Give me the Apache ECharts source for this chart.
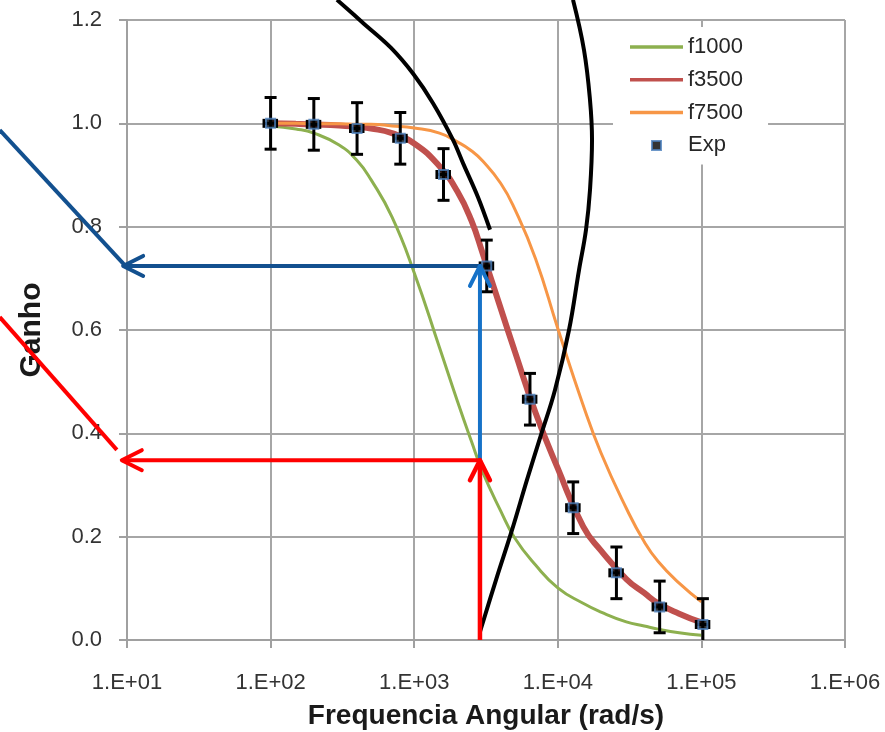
<!DOCTYPE html>
<html>
<head>
<meta charset="utf-8">
<script src="https://cdn.jsdelivr.net/npm/echarts@6/dist/echarts.min.js"></script>
<style>
  html, body { margin: 0; padding: 0; background: #fff; }
  #chart { width: 885px; height: 732px; }
</style>
</head>
<body>
<div id="chart"></div>
<script>
// Angular frequency samples (rad/s) for the model curves
const freqSamples = [100, 150, 200, 300, 400, 500, 700, 1000, 1500, 2000, 2500, 3000, 4000, 5000,
                     7000, 10000, 15000, 20000, 30000, 40000, 50000, 70000, 100000];
// Gain of each low-pass model
const gainF1000 = [0.995, 0.989, 0.981, 0.958, 0.928, 0.891, 0.819, 0.711, 0.566, 0.462, 0.385,
                   0.325, 0.250, 0.198, 0.145, 0.101, 0.071, 0.054, 0.035, 0.027, 0.021, 0.014, 0.009];
const gainF3500 = [1.000, 0.999, 0.998, 0.996, 0.993, 0.990, 0.981, 0.961, 0.917, 0.868, 0.812,
                   0.748, 0.642, 0.560, 0.440, 0.332, 0.220, 0.173, 0.118, 0.091, 0.071, 0.051, 0.034];
const gainF7500 = [1.000, 1.000, 0.999, 0.999, 0.998, 0.998, 0.995, 0.991, 0.981, 0.964, 0.947,
                   0.927, 0.884, 0.835, 0.738, 0.603, 0.455, 0.362, 0.255, 0.190, 0.152, 0.110, 0.074];

// Measured points with uncertainties
const expFreq = [100, 200, 400, 800, 1600, 3200, 6400, 12800, 25600, 51200, 102400];
const expGain = [1.000, 0.998, 0.990, 0.971, 0.901, 0.724, 0.466, 0.256, 0.130, 0.064, 0.030];
const expGainErr = 0.05;   // absolute, on gain
const expFreqErr = 0.10;   // relative, on frequency

const seriesNames = ['f1000', 'f3500', 'f7500', 'Exp'];

// Hand-drawn guide strokes, in (rad/s, gain) coordinates
const arcLeft = [[290, 1.239], [450, 1.192], [690, 1.146], [990, 1.095], [1352, 1.039],
                 [1863, 0.968], [2187, 0.923], [2782, 0.857], [3373, 0.794]];
const arcRight = [[12760, 1.239], [15220, 1.142], [16760, 1.045], [17310, 0.968], [16760, 0.871],
                  [15720, 0.794], [14050, 0.716], [11970, 0.600], [9560, 0.484], [7640, 0.397],
                  [6100, 0.310], [4800, 0.213], [3710, 0.116], [2870, 0.0155]];
const bluePointer = [[1.3, 0.987], [9.6, 0.726]];
const blueHoriz = [[2870, 0.724], [9.4, 0.724]];
const blueVert = [[2870, 0.348], [2870, 0.724]];
const redPointer = [[1.3, 0.625], [8.5, 0.368]];
const redHoriz = [[2870, 0.348], [9.2, 0.348]];
const redVert = [[2870, 0.0], [2870, 0.348]];

const FONT = '"Liberation Sans", Arial, sans-serif';

// Legend glyphs: a thin bar for the curves, a small square for the measurements
const LINE_ICON = 'path://M0,0L53,0L53,3.5L0,3.5Z';
const SQUARE_ICON = 'path://M0,0L9,0L9,9L0,9Z';

const strokes = [
  { pts: arcLeft, color: '#000000', width: 4, smooth: 0.35 },
  { pts: arcRight, color: '#000000', width: 4, smooth: 0.4 },
  { pts: bluePointer, color: '#12508f', width: 4 },
  { pts: blueHoriz, color: '#12508f', width: 4, arrow: true },
  { pts: blueVert, color: '#1672c8', width: 4, arrow: true },
  { pts: redPointer, color: '#ff0000', width: 4 },
  { pts: redHoriz, color: '#ff0000', width: 4, arrow: true },
  { pts: redVert, color: '#ff0000', width: 4.5, arrow: true }
];

function pairs(xs, ys) { return xs.map((x, i) => [x, ys[i]]); }

function renderErrorBar(params, api) {
  const f = api.value(0), g = api.value(1);
  const c = api.coord([f, g]);
  const top = api.coord([f, g + expGainErr]);
  const lowVal = g - expGainErr;
  const bot = api.coord([f, Math.max(0, lowVal)]);
  const left = api.coord([f * (1 - expFreqErr), g]);
  const right = api.coord([f * (1 + expFreqErr), g]);
  const cap = 6, hcap = 4.5;
  const st = { stroke: '#000', lineWidth: 3, fill: null };
  const kids = [
    { type: 'line', shape: { x1: c[0], y1: top[1], x2: c[0], y2: bot[1] }, style: st },
    { type: 'line', shape: { x1: c[0] - cap, y1: top[1], x2: c[0] + cap, y2: top[1] }, style: st },
    { type: 'line', shape: { x1: left[0], y1: c[1], x2: right[0], y2: c[1] }, style: st },
    { type: 'line', shape: { x1: left[0], y1: c[1] - hcap, x2: left[0], y2: c[1] + hcap }, style: st },
    { type: 'line', shape: { x1: right[0], y1: c[1] - hcap, x2: right[0], y2: c[1] + hcap }, style: st }
  ];
  if (lowVal >= 0) {
    kids.push({ type: 'line', shape: { x1: c[0] - cap, y1: bot[1], x2: c[0] + cap, y2: bot[1] }, style: st });
  }
  return { type: 'group', children: kids };
}

function renderStroke(params, api) {
  const s = strokes[params.dataIndex];
  const pts = s.pts.map(p => api.coord(p));
  const style = { stroke: s.color, lineWidth: s.width, fill: null, lineCap: 'butt', lineJoin: 'round' };
  const kids = [{ type: 'polyline', shape: { points: pts, smooth: s.smooth || 0 }, style: style }];
  if (s.arrow) {
    const tip = pts[pts.length - 1], prev = pts[pts.length - 2];
    const dx = tip[0] - prev[0], dy = tip[1] - prev[1];
    const len = Math.hypot(dx, dy);
    const ux = dx / len, uy = dy / len;
    const back = 20, half = 10;
    const bx = tip[0] - ux * back, by = tip[1] - uy * back;
    kids.push({
      type: 'polyline',
      shape: { points: [[bx - uy * half, by + ux * half], tip, [bx + uy * half, by - ux * half]] },
      style: Object.assign({}, style, { lineCap: 'round' })
    });
  }
  return { type: 'group', children: kids };
}

function curveSeries(name, gains, color, width) {
  return {
    name: name, type: 'line', data: pairs(freqSamples, gains),
    smooth: 0.5, symbol: 'none', showSymbol: false,
    color: color, itemStyle: { color: color }, lineStyle: { color: color, width: width }, z: 2
  };
}

const chart = echarts.init(document.getElementById('chart'), null, { renderer: 'canvas' });

chart.setOption({
  animation: false,
  backgroundColor: '#ffffff',
  grid: { left: 127, right: 40, top: 20, bottom: 92, containLabel: false, outerBoundsMode: 'none' },
  legend: {
    orient: 'vertical',
    left: 613,
    top: 27,
    padding: [9, 25, 8, 17],
    backgroundColor: '#ffffff',
    itemWidth: 53,
    itemHeight: 9,
    itemGap: 10.8,
    symbolKeepAspect: true,
    textStyle: { fontFamily: FONT, fontSize: 22, color: '#262626' },
    data: [
      { name: 'f1000', icon: LINE_ICON },
      { name: 'f3500', icon: LINE_ICON },
      { name: 'f7500', icon: LINE_ICON },
      { name: 'Exp', icon: SQUARE_ICON }
    ]
  },
  xAxis: {
    type: 'log',
    logBase: 10,
    min: 10,
    max: 1000000,
    name: 'Frequencia Angular (rad/s)',
    nameLocation: 'middle',
    nameGap: 62,
    nameTextStyle: { fontFamily: FONT, fontSize: 28, fontWeight: 'bold', color: '#1a1a1a' },
    axisLine: { lineStyle: { color: '#a0a0a0', width: 2 } },
    axisTick: { show: true, length: 8, lineStyle: { color: '#a0a0a0', width: 2 } },
    axisLabel: {
      margin: 32,
      fontFamily: FONT, fontSize: 22, color: '#333',
      formatter: v => {
        const e = Math.round(Math.log10(v));
        return '1.E+' + (e < 10 ? '0' + e : String(e));
      }
    },
    splitLine: { show: true, lineStyle: { color: '#a6a6a6', width: 2 } },
    minorTick: { show: false }
  },
  yAxis: {
    type: 'value',
    min: 0,
    max: 1.2,
    interval: 0.2,
    name: 'Ganho',
    nameLocation: 'middle',
    nameGap: 80,
    nameTextStyle: { fontFamily: FONT, fontSize: 30, fontWeight: 'bold', color: '#1a1a1a' },
    axisLine: { show: true, lineStyle: { color: '#a0a0a0', width: 2 } },
    axisTick: { show: true, length: 8, lineStyle: { color: '#a0a0a0', width: 2 } },
    axisLabel: {
      margin: 25,
      fontFamily: FONT, fontSize: 22, color: '#333',
      formatter: v => v.toFixed(1)
    },
    splitLine: { show: true, lineStyle: { color: '#a6a6a6', width: 2 } }
  },
  series: [
    curveSeries(seriesNames[0], gainF1000, '#8db04f', 3),
    curveSeries(seriesNames[1], gainF3500, '#c0504d', 6),
    curveSeries(seriesNames[2], gainF7500, '#f79646', 3),
    {
      name: 'errors', type: 'custom', data: pairs(expFreq, expGain),
      renderItem: renderErrorBar, clip: false, silent: true, z: 3
    },
    {
      name: seriesNames[3], type: 'scatter', data: pairs(expFreq, expGain),
      symbol: 'rect', symbolSize: 9,
      itemStyle: { color: '#000000', borderColor: '#4a7ebb', borderWidth: 2 }, z: 4
    },
    {
      name: 'guides', type: 'custom', data: strokes.map(s => s.pts[0]),
      renderItem: renderStroke, clip: false, silent: true, z: 6
    }
  ]
});
</script>
</body>
</html>
